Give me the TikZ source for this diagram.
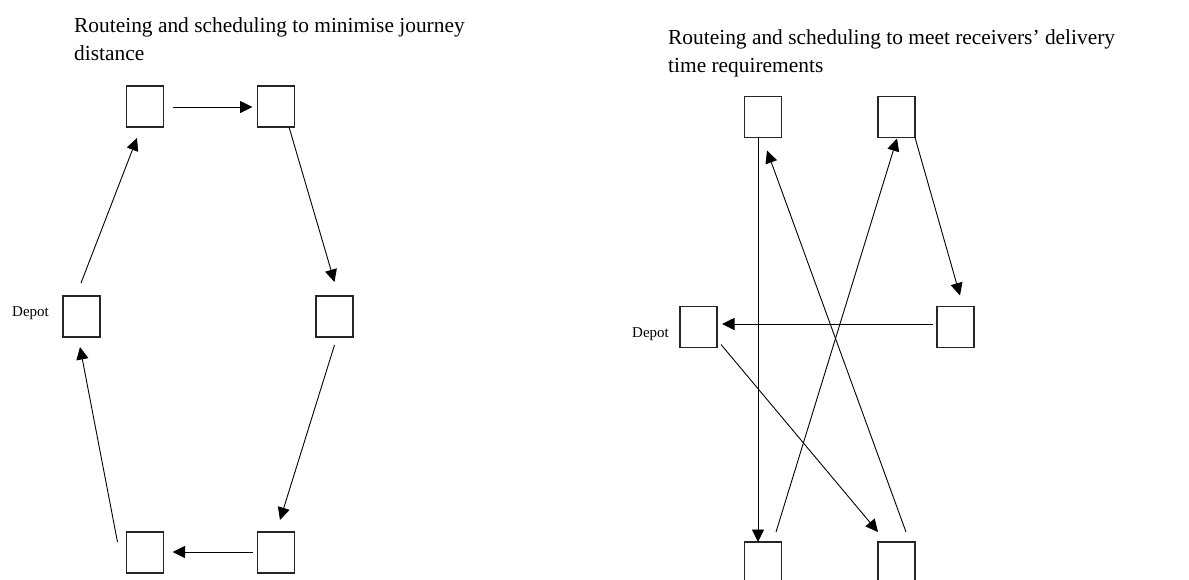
\documentclass[tikz,border=0pt]{standalone}
\usepackage{fontspec}
\setmainfont{Liberation Serif}
\usetikzlibrary{arrows.meta,calc}

\tikzset{
  stop/.style={draw=black!85, line width=1.1pt, minimum width=37pt, minimum height=41pt, inner sep=0pt, outer sep=0pt},
  leg/.style={draw=black, line width=0.9pt, -{Triangle[length=12.5pt,width=12pt]}},
  heading/.style={font=\fontsize{21.4}{27.5}\selectfont, align=left, inner sep=0pt, anchor=base west},
  tag/.style={font=\fontsize{15}{17}\selectfont, inner sep=0pt, anchor=base west}
}

\begin{document}
\begin{tikzpicture}[x=1pt,y=-1pt]
\useasboundingbox (0,0) rectangle (1189,579);
\clip (0,0) rectangle (1189,579);

% ---- round trip that keeps the distance short ----
\node[heading] (t1) at (74,60) {Routeing and scheduling to minimise journey\\distance};

\node[stop] (a) at (145,106.5) {};
\node[stop] (b) at (276,106.5) {};
\node[stop] (c) at (334.5,316.5) {};
\node[stop] (d) at (276,552.5) {};
\node[stop] (e) at (145,552.5) {};
\node[stop] (f) at (81.5,316.5) {};
\node[tag] (fl) at (12,316) {Depot};

\draw[leg] ($(a.east)+(9,0.5)$) -- ($(b.west)+(-5,0.5)$);
\draw[leg] ($(b.south)+(13,0)$) -- ($(c.north)+(0,-14)$);
\draw[leg] ($(c.south)+(0,8)$) -- ($(d.north)+(4,-12)$);
\draw[leg] ($(d.west)+(-5,-0.5)$) -- ($(e.east)+(9,-0.5)$);
\draw[leg] ($(e.north west)+(-9,10)$) -- ($(f.south)+(-1.5,10)$);
\draw[leg] ($(f.north)+(-0.5,-13)$) -- ($(a.south)+(-8,11)$);

% ---- route that follows the receivers' time windows ----
\node[heading] (t2) at (668,72) {Routeing and scheduling to meet receivers’ delivery\\time requirements};

\node[stop] (g) at (763,117) {};
\node[stop] (h) at (896.5,117) {};
\node[stop] (i) at (955.5,327) {};
\node[stop] (j) at (698.5,327) {};
\node[stop] (k) at (763,562.5) {};
\node[stop] (l) at (896.5,562.5) {};
\node[tag] (jl) at (632,337) {Depot};

\draw[leg] ($(g.south)+(-5,0)$) -- ($(k.north)+(-5,0)$);
\draw[leg] ($(k.north)+(13,-10)$) -- ($(h.south)+(0.5,1)$);
\draw[leg] (h.south east) -- ($(i.north)+(4.5,-11)$);
\draw[leg] ($(i.west)+(-4,-3)$) -- ($(j.east)+(5,-3)$);
\draw[leg] ($(j.south east)+(4,-3)$) -- ($(l.north west)+(0,-10)$);
\draw[leg] ($(l.north)+(9.5,-10)$) -- ($(g.south)+(4,13)$);
\end{tikzpicture}
\end{document}
